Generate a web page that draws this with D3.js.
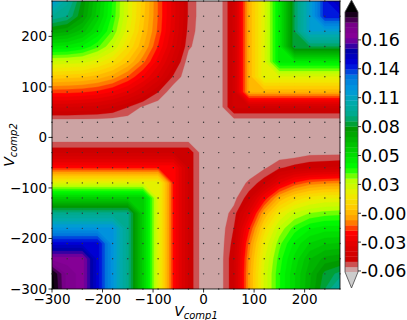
<!DOCTYPE html>
<html>
<head>
<meta charset="utf-8">
<script src="https://cdnjs.cloudflare.com/ajax/libs/d3/7.8.5/d3.min.js"></script>
<style>
body { margin: 0; background: #fff; }
text { font-family: "DejaVu Sans", sans-serif; fill: #000; }
</style>
</head>
<body>
<svg id="chart" width="407" height="320"></svg>
<script>
// grid of the sampled points
var xVals = [-300, -270, -240, -210, -180, -150, -120, -90, -60, -30, 0, 30, 60, 90, 120, 150, 180, 210, 240, 270];
var yVals = [-300, -270, -240, -210, -180, -150, -120, -90, -60, -30, 0, 30, 60, 90, 120, 150, 180, 210, 240, 270];

// values, one row per yVals entry (bottom row first), columns follow xVals
var zRows = [
  [0.192, 0.172, 0.167, 0.142, 0.116, 0.092, 0.058, 0.020, -0.020, -0.044, -0.057, -0.057, -0.044, -0.006, 0.022, 0.040, 0.055, 0.070, 0.085, 0.100],
  [0.190, 0.172, 0.167, 0.142, 0.116, 0.092, 0.058, 0.020, -0.020, -0.044, -0.057, -0.057, -0.044, -0.006, 0.022, 0.040, 0.055, 0.069, 0.082, 0.087],
  [0.167, 0.167, 0.167, 0.142, 0.116, 0.092, 0.058, 0.020, -0.020, -0.044, -0.057, -0.057, -0.044, -0.008, 0.020, 0.038, 0.052, 0.065, 0.072, 0.074],
  [0.142, 0.142, 0.142, 0.142, 0.116, 0.092, 0.058, 0.020, -0.020, -0.044, -0.057, -0.057, -0.046, -0.012, 0.016, 0.034, 0.047, 0.056, 0.060, 0.061],
  [0.116, 0.116, 0.116, 0.116, 0.116, 0.092, 0.058, 0.020, -0.020, -0.044, -0.057, -0.057, -0.048, -0.020, 0.008, 0.027, 0.038, 0.045, 0.048, 0.048],
  [0.092, 0.092, 0.092, 0.092, 0.092, 0.092, 0.058, 0.020, -0.020, -0.044, -0.057, -0.057, -0.051, -0.032, -0.004, 0.015, 0.026, 0.031, 0.033, 0.034],
  [0.058, 0.058, 0.058, 0.058, 0.058, 0.058, 0.058, 0.020, -0.020, -0.044, -0.057, -0.057, -0.055, -0.045, -0.023, -0.003, 0.007, 0.013, 0.016, 0.016],
  [0.020, 0.020, 0.020, 0.020, 0.020, 0.020, 0.020, 0.020, -0.020, -0.044, -0.057, -0.057, -0.057, -0.052, -0.045, -0.029, -0.018, -0.012, -0.010, -0.009],
  [-0.020, -0.020, -0.020, -0.020, -0.020, -0.020, -0.020, -0.020, -0.020, -0.044, -0.057, -0.057, -0.057, -0.057, -0.054, -0.049, -0.046, -0.044, -0.043, -0.042],
  [-0.044, -0.044, -0.044, -0.044, -0.044, -0.044, -0.044, -0.044, -0.044, -0.044, -0.057, -0.057, -0.057, -0.057, -0.057, -0.057, -0.057, -0.055, -0.055, -0.055],
  [-0.057, -0.057, -0.057, -0.057, -0.057, -0.057, -0.057, -0.057, -0.057, -0.057, -0.057, -0.057, -0.057, -0.057, -0.057, -0.057, -0.057, -0.057, -0.057, -0.057],
  [-0.057, -0.057, -0.057, -0.057, -0.057, -0.057, -0.057, -0.057, -0.057, -0.057, -0.057, -0.057, -0.057, -0.057, -0.057, -0.057, -0.057, -0.057, -0.057, -0.057],
  [-0.038, -0.038, -0.039, -0.040, -0.043, -0.048, -0.054, -0.057, -0.057, -0.057, -0.057, -0.057, -0.042, -0.042, -0.042, -0.042, -0.042, -0.042, -0.042, -0.042],
  [-0.017, -0.017, -0.018, -0.020, -0.024, -0.030, -0.038, -0.048, -0.057, -0.057, -0.057, -0.057, -0.042, -0.003, -0.003, -0.003, -0.003, -0.003, -0.003, -0.003],
  [0.004, 0.003, 0.002, -0.001, -0.006, -0.014, -0.024, -0.035, -0.049, -0.057, -0.057, -0.057, -0.042, -0.003, 0.020, 0.020, 0.020, 0.020, 0.020, 0.020],
  [0.025, 0.024, 0.023, 0.018, 0.011, 0.001, -0.012, -0.026, -0.041, -0.056, -0.057, -0.057, -0.042, -0.003, 0.020, 0.048, 0.048, 0.048, 0.048, 0.048],
  [0.050, 0.049, 0.045, 0.037, 0.026, 0.011, -0.003, -0.019, -0.035, -0.052, -0.057, -0.057, -0.042, -0.003, 0.020, 0.048, 0.085, 0.085, 0.085, 0.085],
  [0.074, 0.071, 0.063, 0.050, 0.035, 0.018, 0.001, -0.015, -0.032, -0.050, -0.057, -0.057, -0.042, -0.003, 0.020, 0.048, 0.085, 0.110, 0.110, 0.110],
  [0.095, 0.090, 0.076, 0.058, 0.039, 0.021, 0.003, -0.014, -0.031, -0.049, -0.057, -0.057, -0.042, -0.003, 0.020, 0.048, 0.085, 0.110, 0.138, 0.138],
  [0.115, 0.097, 0.079, 0.060, 0.040, 0.021, 0.004, -0.014, -0.031, -0.049, -0.057, -0.057, -0.042, -0.003, 0.020, 0.048, 0.085, 0.110, 0.138, 0.150]
];

var xTicks = [-300, -200, -100, 0, 100, 200];
var yTicks = [-300, -200, -100, 0, 100, 200];
var cbTicks = [-0.057, -0.0296, -0.0022, 0.0252, 0.0527, 0.0801, 0.1076, 0.1351, 0.1625];
var cbLabels = ['-0.06', '-0.03', '-0.00', '0.03', '0.05', '0.08', '0.11', '0.14', '0.16'];

// contour levels
var levelMin = -0.058, levelMax = 0.189, nBands = 50;
var levels = d3.range(nBands + 1).map(function(k){ return levelMin + k * (levelMax - levelMin) / nBands; });

// nipy_spectral, used reversed
var nipyStops = ['#000000', '#770088', '#880099', '#0000aa', '#0000dd', '#0077dd', '#0099dd', '#00aaaa',
  '#00aa88', '#009900', '#00bb00', '#00dd00', '#00ff00', '#bbff00', '#eeee00', '#ffcc00', '#ff9900',
  '#ff0000', '#dd0000', '#cc0000', '#cccccc'];
var nipy = d3.scaleLinear()
  .domain(nipyStops.map(function(c, i){ return i / (nipyStops.length - 1); }))
  .range(nipyStops)
  .interpolate(d3.interpolateRgb);
function bandColor(k){ return nipy(1 - (k + 0.5) / nBands); }
var overColor = nipy(0), underColor = nipy(1);

var svg = d3.select('#chart');
var pLeft = 52, pRight = 340, pTop = 1, pBottom = 289;
var x = d3.scaleLinear().domain([-300, 270]).range([pLeft, pRight]);
var y = d3.scaleLinear().domain([-300, 270]).range([pBottom, pTop]);

svg.append('clipPath').attr('id', 'plotClip')
  .append('rect').attr('x', pLeft).attr('y', pTop).attr('width', pRight - pLeft).attr('height', pBottom - pTop);

// filled contours
var values = [];
zRows.forEach(function(row){ row.forEach(function(v){ values.push(v); }); });
var contours = d3.contours().size([xVals.length, yVals.length]).thresholds(levels)(values);

var gx = d3.scaleLinear().domain([0.5, xVals.length - 0.5]).range([x(xVals[0]), x(xVals[xVals.length - 1])]);
var gy = d3.scaleLinear().domain([0.5, yVals.length - 0.5]).range([y(yVals[0]), y(yVals[yVals.length - 1])]);
var path = d3.geoPath(d3.geoTransform({
  point: function(px, py){ this.stream.point(gx(px), gy(py)); }
}));

var plot = svg.append('g').attr('clip-path', 'url(#plotClip)');
plot.selectAll('path')
  .data(contours)
  .join('path')
  .attr('d', path)
  .attr('fill', function(d, k){ return k < nBands ? bandColor(k) : overColor; })
  .attr('stroke', function(d, k){ return k < nBands ? bandColor(k) : overColor; })
  .attr('stroke-width', 0.3);

// sample points
var pts = [];
yVals.forEach(function(yv){ xVals.forEach(function(xv){ pts.push([xv, yv]); }); });
svg.append('g').selectAll('circle')
  .data(pts)
  .join('circle')
  .attr('cx', function(d){ return x(d[0]); })
  .attr('cy', function(d){ return y(d[1]); })
  .attr('r', 0.7)
  .attr('fill', '#333');

// frame
svg.append('rect')
  .attr('x', pLeft).attr('y', pTop).attr('width', pRight - pLeft).attr('height', pBottom - pTop)
  .attr('fill', 'none').attr('stroke', '#000').attr('stroke-width', 0.8);

// axes
var fmt = function(v){ return v < 0 ? '\u2212' + Math.abs(v) : String(v); };
var xa = svg.append('g');
xTicks.forEach(function(t){
  xa.append('line').attr('x1', x(t)).attr('x2', x(t)).attr('y1', pBottom).attr('y2', pBottom + 3.5)
    .attr('stroke', '#000').attr('stroke-width', 0.8);
  xa.append('text').attr('x', x(t)).attr('y', pBottom + 15).attr('text-anchor', 'middle')
    .attr('font-size', 13.5).text(fmt(t));
});
var ya = svg.append('g');
yTicks.forEach(function(t){
  ya.append('line').attr('x1', pLeft - 3.5).attr('x2', pLeft).attr('y1', y(t)).attr('y2', y(t))
    .attr('stroke', '#000').attr('stroke-width', 0.8);
  ya.append('text').attr('x', pLeft - 5).attr('y', y(t) + 5).attr('text-anchor', 'end')
    .attr('font-size', 13.5).text(fmt(t));
});

var xl = svg.append('text').attr('x', 196).attr('y', 316).attr('text-anchor', 'middle');
xl.append('tspan').attr('font-style', 'italic').attr('font-size', 14).text('V');
xl.append('tspan').attr('font-style', 'italic').attr('font-size', 10).attr('dy', 3).text('comp1');

var yl = svg.append('text').attr('transform', 'translate(14,145) rotate(-90)').attr('text-anchor', 'middle');
yl.append('tspan').attr('font-style', 'italic').attr('font-size', 14).text('V');
yl.append('tspan').attr('font-style', 'italic').attr('font-size', 10).attr('dy', 3).text('comp2');

// colorbar
var cbX = 345, cbW = 13, cbTop = 12, cbBottom = 272;
var cy = d3.scaleLinear().domain([levelMin, levelMax]).range([cbBottom, cbTop]);
var cb = svg.append('g');
cb.selectAll('rect')
  .data(d3.range(nBands))
  .join('rect')
  .attr('x', cbX).attr('width', cbW)
  .attr('y', function(k){ return cy(levels[k + 1]); })
  .attr('height', function(k){ return cy(levels[k]) - cy(levels[k + 1]) + 0.3; })
  .attr('fill', function(k){ return bandColor(k); });
cb.append('path')
  .attr('d', 'M' + cbX + ',' + cbTop + 'L' + (cbX + cbW / 2) + ',0L' + (cbX + cbW) + ',' + cbTop + 'Z')
  .attr('fill', overColor);
cb.append('path')
  .attr('d', 'M' + cbX + ',' + cbBottom + 'L' + (cbX + cbW / 2) + ',288L' + (cbX + cbW) + ',' + cbBottom + 'Z')
  .attr('fill', underColor);
cb.append('path')
  .attr('d', 'M' + cbX + ',' + cbTop + 'L' + (cbX + cbW / 2) + ',0L' + (cbX + cbW) + ',' + cbTop +
    'L' + (cbX + cbW) + ',' + cbBottom + 'L' + (cbX + cbW / 2) + ',288L' + cbX + ',' + cbBottom + 'Z')
  .attr('fill', 'none').attr('stroke', '#444').attr('stroke-width', 0.8);
cbTicks.forEach(function(t, i){
  cb.append('line').attr('x1', cbX + cbW).attr('x2', cbX + cbW + 3).attr('y1', cy(t)).attr('y2', cy(t))
    .attr('stroke', '#000').attr('stroke-width', 0.8);
  cb.append('text').attr('x', cbX + cbW + 3).attr('y', cy(t) + 6.5)
    .attr('font-size', 17.5).text(cbLabels[i]);
});
</script>
</body>
</html>
